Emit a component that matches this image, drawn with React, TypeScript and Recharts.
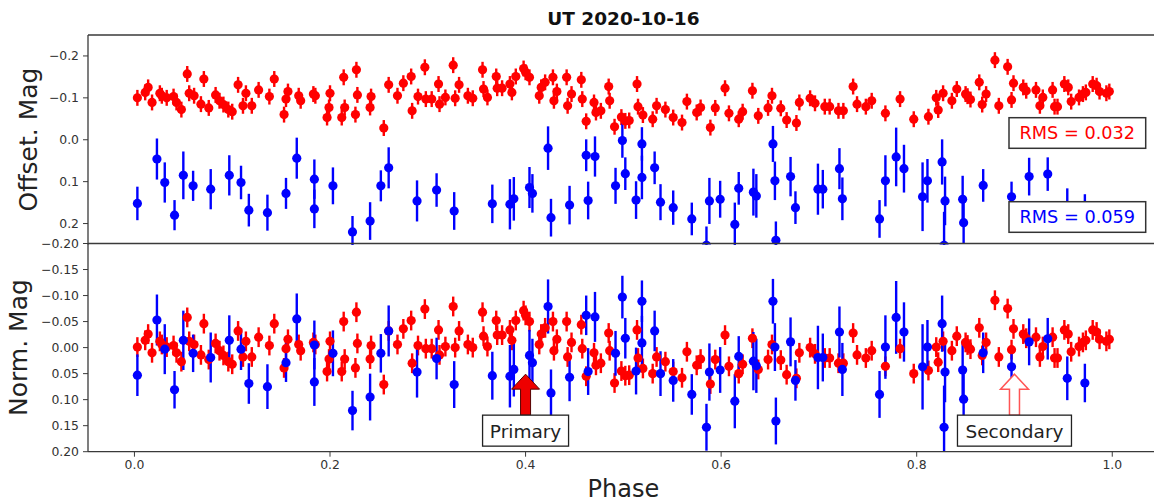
import React from 'react';
import { ScatterChart, Scatter, XAxis, YAxis, ErrorBar, ReferenceDot } from 'recharts';

// ---------- data ----------
const TITLE = 'UT 2020-10-16';
const X_LABEL = 'Phase';
const TOP_Y_LABEL = 'Offset. Mag';
const BOTTOM_Y_LABEL = 'Norm. Mag';
const PHASE_TICKS = [0, 0.2, 0.4, 0.6, 0.8, 1.0];
const TOP_TICKS = [-0.2, -0.1, 0, 0.1, 0.2];
const BOTTOM_TICKS = [-0.2, -0.15, -0.1, -0.05, 0, 0.05, 0.1, 0.15, 0.2];
const RMS_RED = 'RMS = 0.032';
const RMS_BLUE = 'RMS = 0.059';
const PRIMARY_LABEL = 'Primary';
const SECONDARY_LABEL = 'Secondary';
const PRIMARY_PHASE = 0.4;
const SECONDARY_PHASE = 0.9;
const ANNOT_MAG = 0.051;
const RED_ERR = 0.019;
// mean offsets removed for the normalized (bottom) panel
const RED_MEAN = -0.099;
const BLUE_MEAN = 0.099;

// red series: [phase, offset mag]
const RED_TOP: [number, number][] = [
  [0.003, -0.100], [0.011, -0.113], [0.014, -0.125], [0.018, -0.089], [0.026, -0.111],
  [0.028, -0.105], [0.033, -0.100], [0.040, -0.103], [0.043, -0.089], [0.048, -0.072],
  [0.054, -0.157], [0.056, -0.111], [0.061, -0.105], [0.068, -0.085], [0.071, -0.145],
  [0.076, -0.076], [0.083, -0.107], [0.087, -0.093], [0.091, -0.084], [0.096, -0.072],
  [0.100, -0.067], [0.106, -0.131], [0.111, -0.081], [0.114, -0.111], [0.120, -0.081],
  [0.127, -0.119], [0.138, -0.103], [0.143, -0.145], [0.153, -0.060], [0.155, -0.097],
  [0.157, -0.115], [0.168, -0.105], [0.170, -0.093], [0.183, -0.109], [0.185, -0.105],
  [0.197, -0.053], [0.199, -0.077], [0.200, -0.111], [0.212, -0.053], [0.214, -0.149],
  [0.215, -0.077], [0.226, -0.060], [0.227, -0.167], [0.228, -0.107], [0.241, -0.077],
  [0.242, -0.103], [0.255, -0.028], [0.260, -0.131], [0.269, -0.105], [0.275, -0.135],
  [0.283, -0.151], [0.284, -0.069], [0.290, -0.103], [0.297, -0.173], [0.298, -0.097],
  [0.304, -0.097], [0.311, -0.133], [0.312, -0.085], [0.318, -0.101], [0.326, -0.178],
  [0.328, -0.099], [0.332, -0.131], [0.341, -0.105], [0.346, -0.099], [0.356, -0.167],
  [0.357, -0.121], [0.361, -0.101], [0.370, -0.151], [0.371, -0.123], [0.376, -0.123],
  [0.384, -0.133], [0.386, -0.113], [0.390, -0.151], [0.398, -0.170], [0.400, -0.161],
  [0.404, -0.149], [0.414, -0.105], [0.416, -0.125], [0.420, -0.137], [0.428, -0.149],
  [0.429, -0.093], [0.432, -0.115], [0.442, -0.149], [0.443, -0.081], [0.447, -0.109],
  [0.457, -0.143], [0.458, -0.097], [0.462, -0.044], [0.470, -0.089], [0.472, -0.065],
  [0.477, -0.069], [0.485, -0.127], [0.486, -0.093], [0.491, -0.031], [0.498, -0.054],
  [0.502, -0.045], [0.506, -0.046], [0.514, -0.133], [0.515, -0.079], [0.520, -0.059],
  [0.530, -0.049], [0.534, -0.081], [0.543, -0.072], [0.551, -0.053], [0.560, -0.041],
  [0.565, -0.091], [0.575, -0.065], [0.579, -0.077], [0.589, -0.029], [0.594, -0.076],
  [0.604, -0.123], [0.608, -0.063], [0.618, -0.049], [0.622, -0.067], [0.632, -0.117],
  [0.638, -0.057], [0.648, -0.076], [0.652, -0.105], [0.661, -0.075], [0.667, -0.047],
  [0.677, -0.040], [0.680, -0.089], [0.691, -0.099], [0.696, -0.087], [0.706, -0.079],
  [0.711, -0.079], [0.720, -0.069], [0.725, -0.069], [0.735, -0.127], [0.739, -0.085],
  [0.748, -0.079], [0.754, -0.093], [0.768, -0.063], [0.783, -0.097], [0.797, -0.049],
  [0.812, -0.055], [0.820, -0.100], [0.822, -0.071], [0.827, -0.111], [0.836, -0.093],
  [0.841, -0.121], [0.850, -0.109], [0.852, -0.104], [0.855, -0.096], [0.864, -0.137],
  [0.867, -0.084], [0.871, -0.109], [0.880, -0.190], [0.884, -0.081], [0.893, -0.174],
  [0.897, -0.095], [0.899, -0.135], [0.909, -0.125], [0.912, -0.117], [0.922, -0.119],
  [0.926, -0.081], [0.929, -0.101], [0.939, -0.119], [0.941, -0.079], [0.944, -0.079],
  [0.951, -0.133], [0.955, -0.125], [0.958, -0.091], [0.966, -0.101], [0.970, -0.109],
  [0.973, -0.113], [0.980, -0.133], [0.984, -0.129], [0.987, -0.115], [0.994, -0.111],
  [0.997, -0.115],
];

// blue series: [phase, offset mag, error]
const BLUE_TOP: [number, number, number][] = [
  [0.003, 0.152, 0.040], [0.023, 0.046, 0.049], [0.031, 0.102, 0.048], [0.041, 0.180, 0.036],
  [0.050, 0.085, 0.057], [0.060, 0.110, 0.036], [0.078, 0.118, 0.048], [0.097, 0.085, 0.048],
  [0.109, 0.102, 0.040], [0.117, 0.168, 0.039], [0.136, 0.174, 0.043], [0.155, 0.128, 0.037],
  [0.166, 0.044, 0.049], [0.184, 0.094, 0.047], [0.184, 0.165, 0.046], [0.203, 0.110, 0.044],
  [0.223, 0.220, 0.038], [0.241, 0.194, 0.045], [0.252, 0.110, 0.037], [0.260, 0.067, 0.049],
  [0.289, 0.146, 0.049], [0.309, 0.120, 0.040], [0.327, 0.170, 0.045], [0.366, 0.153, 0.046],
  [0.384, 0.154, 0.060], [0.388, 0.141, 0.052], [0.404, 0.114, 0.049], [0.407, 0.128, 0.046],
  [0.423, 0.020, 0.052], [0.426, 0.186, 0.045], [0.445, 0.156, 0.046], [0.462, 0.037, 0.038],
  [0.464, 0.145, 0.045], [0.471, 0.040, 0.048], [0.492, 0.110, 0.043], [0.499, 0.002, 0.041],
  [0.502, 0.081, 0.039], [0.513, 0.144, 0.045], [0.519, 0.010, 0.040], [0.519, 0.090, 0.052],
  [0.532, 0.067, 0.039], [0.538, 0.149, 0.043], [0.551, 0.162, 0.041], [0.570, 0.189, 0.039],
  [0.585, 0.252, 0.045], [0.588, 0.146, 0.055], [0.599, 0.142, 0.044], [0.614, 0.202, 0.052],
  [0.618, 0.116, 0.039], [0.633, 0.125, 0.056], [0.636, 0.134, 0.052], [0.653, 0.010, 0.043],
  [0.655, 0.098, 0.046], [0.656, 0.240, 0.045], [0.671, 0.088, 0.047], [0.676, 0.162, 0.039],
  [0.699, 0.118, 0.061], [0.704, 0.118, 0.046], [0.721, 0.069, 0.049], [0.724, 0.141, 0.051],
  [0.762, 0.189, 0.045], [0.768, 0.098, 0.061], [0.779, 0.041, 0.070], [0.787, 0.069, 0.057],
  [0.806, 0.136, 0.082], [0.811, 0.098, 0.052], [0.826, 0.053, 0.054], [0.828, 0.252, 0.080],
  [0.829, 0.146, 0.058], [0.847, 0.142, 0.056], [0.848, 0.198, 0.050], [0.868, 0.109, 0.039],
  [0.897, 0.136, 0.036], [0.915, 0.088, 0.045], [0.934, 0.082, 0.040], [0.954, 0.158, 0.042],
  [0.972, 0.167, 0.037],
];

// ---------- derived tables ----------
const redTop = RED_TOP.map(([x, y]) => ({ x, y, err: RED_ERR }));
const blueTop = BLUE_TOP.map(([x, y, err]) => ({ x, y, err }));
const redNorm = RED_TOP.map(([x, y]) => ({ x, y: +(y - RED_MEAN).toFixed(4), err: RED_ERR }));
const blueNorm = BLUE_TOP.map(([x, y, err]) => ({ x, y: +(y - BLUE_MEAN).toFixed(4), err }));

// ---------- styling ----------
const FONT = '"DejaVu Sans", Verdana, sans-serif';
const RED = '#ff0000';
const BLUE = '#0000ff';
const SPINE = '#3a3a3a';
const TICK_TEXT = '#333333';
const CHART_W = 1200;
const X_DOMAIN: [number, number] = [-0.0475, 1.0475];
const MARGIN_LEFT = 28;
const Y_AXIS_W = 60;
const MARGIN_RIGHT = 41.3;
const BOTTOM_MARGIN = { top: 242.5, right: MARGIN_RIGHT, bottom: 22.3, left: MARGIN_LEFT };

const fmt = (digits: number) => (v: number) =>
  (v < -1e-9 ? '\u2212' : '') + Math.abs(v).toFixed(digits);

const dot = (color: string) => (p: any) =>
  p.cx == null ? <g /> : <circle cx={p.cx} cy={p.cy} r={4.6} fill={color} />;

const tickStyle = { fontSize: 12.4, fill: TICK_TEXT, fontFamily: FONT };
const axisLine = { stroke: SPINE, strokeWidth: 1.3 };

const arrowShape = (filled: boolean, label: string, boxW: number) => (p: any) => {
  const cx = p.cx;
  const cy = p.cy;
  const headW = 14;
  const headH = 15;
  const shaftW = 5;
  const shaftEnd = cy + 41;
  const path = `M ${cx} ${cy} L ${cx + headW} ${cy + headH} L ${cx + shaftW} ${cy + headH} L ${cx + shaftW} ${shaftEnd} L ${cx - shaftW} ${shaftEnd} L ${cx - shaftW} ${cy + headH} L ${cx - headW} ${cy + headH} Z`;
  return (
    <g>
      <path
        d={path}
        fill={filled ? '#ee0000' : '#ffffff'}
        stroke={filled ? '#550000' : '#ff5555'}
        strokeWidth={filled ? 1 : 1.5}
      />
      <rect
        x={cx - boxW / 2}
        y={shaftEnd}
        width={boxW}
        height={31}
        fill="#ffffff"
        stroke="#222"
        strokeWidth={1.3}
      />
      <text
        x={cx}
        y={shaftEnd + 22.5}
        textAnchor="middle"
        fontSize={18.5}
        fill="#222"
        fontFamily={FONT}
      >
        {label}
      </text>
    </g>
  );
};

const frameTopAxis = (visible: boolean) => (
  <XAxis
    xAxisId="frame"
    orientation="top"
    type="number"
    dataKey="x"
    domain={X_DOMAIN}
    allowDataOverflow
    height={1}
    tick={false}
    tickLine={false}
    axisLine={visible ? axisLine : false}
  />
);

export default function App() {
  return (
    <div
      style={{
        position: 'absolute',
        left: 0,
        top: 0,
        width: 1154,
        height: 504,
        overflow: 'hidden',
        background: '#ffffff',
        fontFamily: FONT,
      }}
    >
      {/* top panel (svg ends at the shared border so overflowing bars are cut) */}
      <div style={{ position: 'absolute', left: 0, top: 0 }}>
        <ScatterChart
          width={CHART_W}
          height={244.5}
          margin={{ top: 34, right: MARGIN_RIGHT, bottom: 0, left: MARGIN_LEFT }}
        >
          {frameTopAxis(true)}
          <XAxis
            type="number"
            dataKey="x"
            domain={X_DOMAIN}
            ticks={PHASE_TICKS}
            allowDataOverflow
            mirror
            tick={false}
            tickSize={5}
            height={1}
            axisLine={false}
            tickLine={{ stroke: SPINE }}
          />
          <YAxis
            type="number"
            dataKey="y"
            domain={[-0.25, 0.25]}
            reversed
            allowDataOverflow
            ticks={TOP_TICKS}
            tickFormatter={fmt(1)}
            width={Y_AXIS_W}
            tickSize={5}
            tickMargin={4}
            tick={tickStyle}
            axisLine={axisLine}
            tickLine={{ stroke: SPINE }}
          />
          <Scatter data={redTop} fill={RED} isAnimationActive={false} shape={dot(RED)}>
            <ErrorBar dataKey="err" direction="y" width={0} stroke={RED} strokeWidth={2.4} />
          </Scatter>
          <Scatter data={blueTop} fill={BLUE} isAnimationActive={false} shape={dot(BLUE)}>
            <ErrorBar dataKey="err" direction="y" width={0} stroke={BLUE} strokeWidth={2.4} />
          </Scatter>
        </ScatterChart>
      </div>

      {/* bottom panel: data, clipped at the plot's lower edge */}
      <div style={{ position: 'absolute', left: 0, top: 0, height: 451.5, width: CHART_W, overflow: 'hidden' }}>
        <ScatterChart width={CHART_W} height={504} margin={BOTTOM_MARGIN}>
          {frameTopAxis(false)}
          <XAxis
            type="number"
            dataKey="x"
            domain={X_DOMAIN}
            ticks={PHASE_TICKS}
            allowDataOverflow
            height={30}
            tick={false}
            tickLine={false}
            axisLine={false}
          />
          <YAxis
            type="number"
            dataKey="y"
            domain={[-0.2, 0.2]}
            reversed
            allowDataOverflow
            width={Y_AXIS_W}
            tick={false}
            tickLine={false}
            axisLine={false}
          />
          <Scatter data={redNorm} fill={RED} isAnimationActive={false} shape={dot(RED)}>
            <ErrorBar dataKey="err" direction="y" width={0} stroke={RED} strokeWidth={2.4} />
          </Scatter>
          <Scatter data={blueNorm} fill={BLUE} isAnimationActive={false} shape={dot(BLUE)}>
            <ErrorBar dataKey="err" direction="y" width={0} stroke={BLUE} strokeWidth={2.4} />
          </Scatter>
          <ReferenceDot
            x={PRIMARY_PHASE}
            y={ANNOT_MAG}
            r={1}
            isFront
            shape={arrowShape(true, PRIMARY_LABEL, 86)}
          />
          <ReferenceDot
            x={SECONDARY_PHASE}
            y={ANNOT_MAG}
            r={1}
            isFront
            shape={arrowShape(false, SECONDARY_LABEL, 114)}
          />
        </ScatterChart>
      </div>

      {/* bottom panel: axes and frame */}
      <div style={{ position: 'absolute', left: 0, top: 0 }}>
        <ScatterChart width={CHART_W} height={504} margin={BOTTOM_MARGIN}>
          {frameTopAxis(true)}
          <XAxis
            type="number"
            dataKey="x"
            domain={X_DOMAIN}
            ticks={PHASE_TICKS}
            tickFormatter={fmt(1)}
            allowDataOverflow
            height={30}
            tickSize={5}
            tickMargin={3}
            tick={tickStyle}
            axisLine={axisLine}
            tickLine={{ stroke: SPINE }}
          />
          <YAxis
            type="number"
            dataKey="y"
            domain={[-0.2, 0.2]}
            reversed
            allowDataOverflow
            ticks={BOTTOM_TICKS}
            tickFormatter={fmt(2)}
            width={Y_AXIS_W}
            tickSize={5}
            tickMargin={4}
            tick={tickStyle}
            axisLine={axisLine}
            tickLine={{ stroke: SPINE }}
          />
          <Scatter data={[]} isAnimationActive={false} />
        </ScatterChart>
      </div>

      {/* titles, axis labels and RMS boxes */}
      <svg
        width={1154}
        height={504}
        style={{ position: 'absolute', left: 0, top: 0, pointerEvents: 'none' }}
      >
        <text x={623.4} y={25} textAnchor="middle" fontWeight="bold" fontSize={18.5} fill="#111" fontFamily={FONT}>
          {TITLE}
        </text>
        <text transform="translate(37,139.5) rotate(-90)" textAnchor="middle" fontSize={25} fill="#222" fontFamily={FONT}>
          {TOP_Y_LABEL}
        </text>
        <text transform="translate(27,347.6) rotate(-90)" textAnchor="middle" fontSize={25} fill="#222" fontFamily={FONT}>
          {BOTTOM_Y_LABEL}
        </text>
        <text x={623.4} y={496.5} textAnchor="middle" fontSize={24} fill="#222" fontFamily={FONT}>
          {X_LABEL}
        </text>
        <rect x={1009} y={117.7} width={136.7} height={30.6} fill="#fff" stroke="#333" strokeWidth={1.5} />
        <text x={1077.3} y={139.4} textAnchor="middle" fontSize={17.7} fill={RED} fontFamily={FONT}>
          {RMS_RED}
        </text>
        <rect x={1009} y={201.7} width={136.7} height={30.6} fill="#fff" stroke="#333" strokeWidth={1.5} />
        <text x={1077.3} y={223.4} textAnchor="middle" fontSize={17.7} fill={BLUE} fontFamily={FONT}>
          {RMS_BLUE}
        </text>
      </svg>
    </div>
  );
}
